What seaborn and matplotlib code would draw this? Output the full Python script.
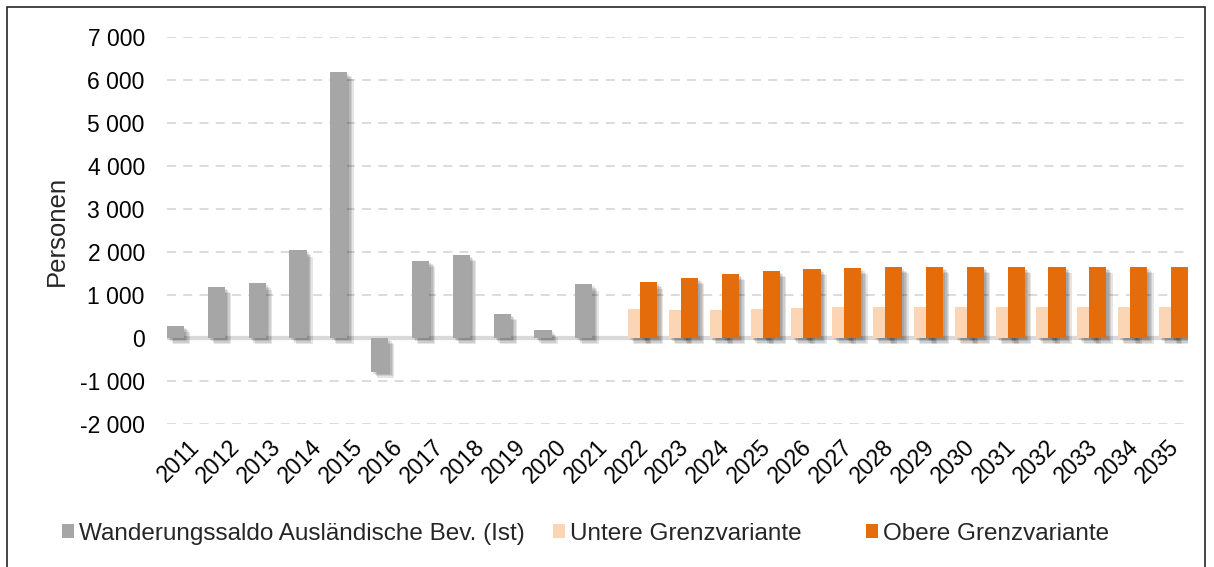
import numpy as np
import pandas as pd
import seaborn as sns
import matplotlib.pyplot as plt
from matplotlib.patches import Patch, Rectangle
from matplotlib.ticker import FuncFormatter, MultipleLocator
import matplotlib.patheffects as pe

# data
years = [str(y) for y in range(2011, 2036)]
ist_years = years[:11]
ist_values = [290, 1190, 1270, 2040, 6180, -780, 1800, 1930, 565, 180, 1250]
proj_years = years[11:]
untere_values = [665, 650, 660, 680, 705, 725, 725, 720, 720, 720, 720, 725, 725, 725]
obere_values = [1295, 1400, 1490, 1560, 1605, 1635, 1650, 1655, 1655, 1655, 1655, 1655, 1655, 1655]

series_names = ["Wanderungssaldo Ausländische Bev. (Ist)",
                "Untere Grenzvariante",
                "Obere Grenzvariante"]
colors = ["#a6a6a6", "#fcd5b4", "#e46c0a"]

df = pd.concat([
    pd.DataFrame({"Jahr": ist_years, "Wert": ist_values, "Serie": series_names[0]}),
    pd.DataFrame({"Jahr": proj_years, "Wert": untere_values, "Serie": series_names[1]}),
    pd.DataFrame({"Jahr": proj_years, "Wert": obere_values, "Serie": series_names[2]}),
])

sns.set_style("white")
plt.rcParams["font.family"] = ["Liberation Sans", "DejaVu Sans"]

fig = plt.figure(figsize=(12.14, 5.67), dpi=100)
ax = fig.add_axes([167 / 1214, 1 - 424 / 567, (1188 - 167) / 1214, (424 - 37) / 567])

sns.barplot(data=df, x="Jahr", y="Wert", hue="Serie", order=years,
            hue_order=series_names, palette=colors, width=0.88,
            saturation=1, errorbar=None, legend=False, ax=ax)

# soft drop shadow, built from a few faint offset copies
shadow = [pe.SimplePatchShadow(offset=(d, -d), shadow_rgbFace="black", alpha=0.1)
          for d in (1.5, 2.5, 3.5, 4.5)] + [pe.Normal()]

# overlapping bars like the excel original, later series on top
for i, cont in enumerate(ax.containers):
    for bar in cont:
        c = bar.get_x() + bar.get_width() / 2
        bar.set_width(0.42)
        bar.set_x(c - 0.21)
        bar.set_zorder(2 + i)
        bar.set_linewidth(0)
        bar.set_path_effects(shadow)

ax.set_xlim(-0.5, len(years) - 0.5)
ax.set_ylim(-2000, 7000)
ax.yaxis.set_major_locator(MultipleLocator(1000))
ax.yaxis.set_major_formatter(FuncFormatter(lambda v, p: f"{v:,.0f}".replace(",", " ")))
ax.yaxis.grid(True, linestyle=(0, (5, 4)), color="#d9d9d9", linewidth=1.3, zorder=0)
ax.set_axisbelow(True)
ax.axhline(0, color="#d9d9d9", linewidth=3, zorder=1.5)
sns.despine(ax=ax, left=True, bottom=True)

ax.tick_params(axis="both", length=0, labelsize=16.5, colors="black")
ax.tick_params(axis="y", pad=16)
ax.tick_params(axis="x", pad=8)
for lab in ax.get_xticklabels():
    lab.set_rotation(45)
    lab.set_ha("right")
    lab.set_rotation_mode("anchor")

ax.set_xlabel("")
ax.set_ylabel("Personen", fontsize=18.5, labelpad=8)

# three legend entries placed like in the original
legend_x = [62, 553, 866]
for name, col, x0 in zip(series_names, colors, legend_x):
    leg = fig.legend([Patch(facecolor=col, edgecolor="none")], [name],
                     loc="center left", bbox_to_anchor=(x0 / 1214, 1 - 534 / 567),
                     frameon=False, fontsize=17.5, handlelength=0.5, handleheight=0.5,
                     handletextpad=0.2, borderpad=0, borderaxespad=0)

# outer frame around the chart
fig.patches.append(Rectangle((7 / 1214, -0.02), (1205 - 7) / 1214, 1.02 - 7 / 567,
                             transform=fig.transFigure, fill=False,
                             edgecolor="#262626", linewidth=1.2))

fig.savefig("out.png", dpi=100)
